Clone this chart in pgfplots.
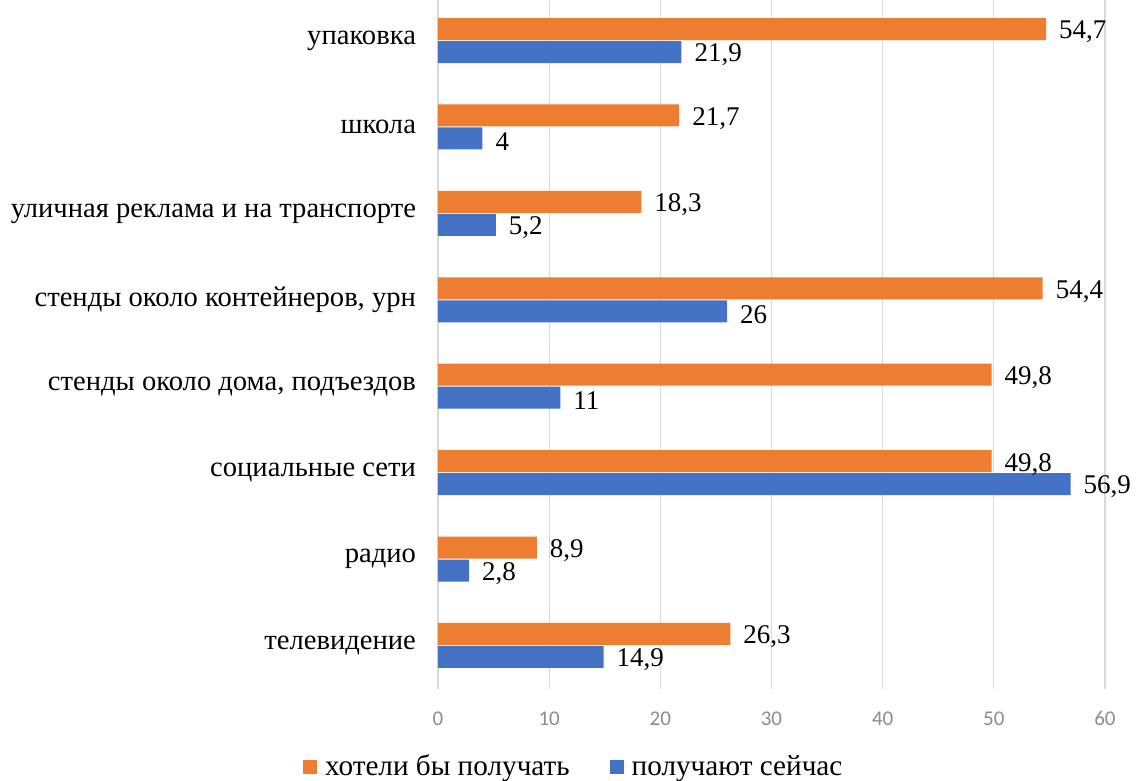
\documentclass[border=0pt]{standalone}
\usepackage{pgfplots}
\pgfplotsset{compat=1.18}
\usepackage{fontspec}
\setmainfont{Liberation Serif}
\newfontfamily\carlito{Carlito}
\definecolor{corange}{HTML}{ED7D31}
\definecolor{cblue}{HTML}{4472C4}
\definecolor{cgrid}{HTML}{D9D9D9}
\definecolor{ctick}{HTML}{8C8C8C}
\begin{document}
\begin{tikzpicture}
\useasboundingbox (-219pt,-46.15pt) rectangle (352pt,344.35pt);
\begin{axis}[
  at={(0,0)}, anchor=south west,
  scale only axis, width=333.5pt, height=345.7pt,
  xmin=0, xmax=60, ymin=-0.5, ymax=7.5,
  xtick={0,10,...,60},
  ytick={0,...,7},
  yticklabels={телевидение, радио, социальные сети, {стенды около дома, подъездов}, {стенды около контейнеров, урн}, {уличная реклама и на транспорте}, школа, упаковка},
  axis line style={draw=none},
  major tick length=0pt,
  xmajorgrids, grid style={cgrid, line width=0.6pt},
  /pgf/number format/assume math mode=true,
  xticklabel style={font=\carlito\fontsize{10.5}{12}\selectfont, text=ctick, anchor=base, yshift=-18.5pt},
  yticklabel style={font=\fontsize{14.3}{16}\selectfont, xshift=-7.5pt},
  xbar, bar width=11pt,
  nodes near coords,
  every node near coord/.append style={font=\fontsize{13.5}{15}\selectfont, text=black, anchor=west, xshift=3pt, yshift=-1.5pt},
  /pgf/number format/.cd, use comma, fixed, precision=1,
  /pgfplots/.cd,
  legend style={at={(0.205,-0.113)}, anchor=center, draw=none, legend columns=2, font=\fontsize{14.6}{16}\selectfont, /tikz/every even column/.append style={column sep=18pt}},
  legend image code/.code={\fill[#1] (0pt,-3.5pt) rectangle (7pt,3.5pt); \path (0pt,0pt) -- (9pt,0pt);},
]
\addplot[fill=corange, draw=none, bar shift=5.75pt] coordinates {
(26.3,0) (8.9,1) (49.8,2) (49.8,3) (54.4,4) (18.3,5) (21.7,6) (54.7,7)};
\addlegendentry{хотели бы получать}
\addplot[fill=cblue, draw=none, bar shift=-5.75pt] coordinates {
(14.9,0) (2.8,1) (56.9,2) (11,3) (26,4) (5.2,5) (4,6) (21.9,7)};
\addlegendentry{получают сейчас}
\end{axis}
\end{tikzpicture}
\end{document}
